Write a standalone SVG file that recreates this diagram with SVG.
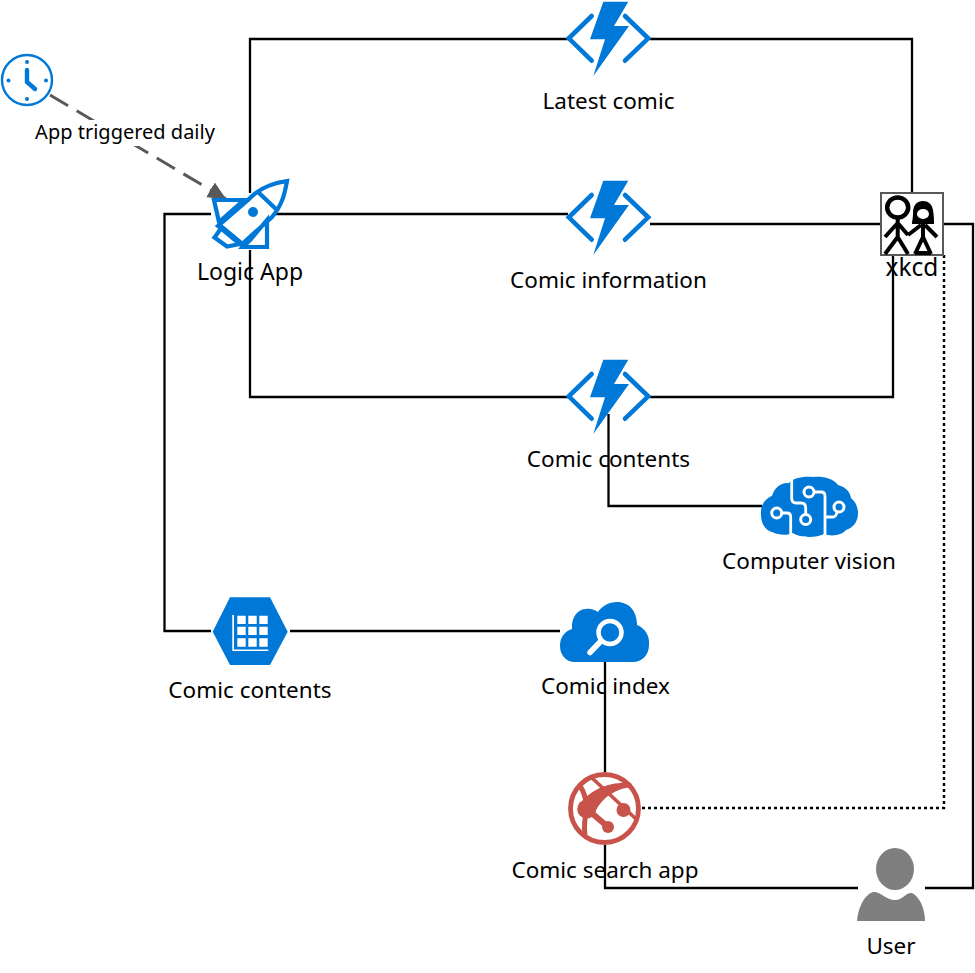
<svg xmlns="http://www.w3.org/2000/svg" xmlns:xlink="http://www.w3.org/1999/xlink" width="975" height="973" viewBox="0 0 975 973">
<style>
text{font-family:"Noto Sans","Open Sans","Liberation Sans",sans-serif;font-size:22.5px;fill:#000;text-anchor:middle}
.c{fill:none;stroke:#000;stroke-width:2.3}
.b{fill:#0078d7}
.w{fill:none;stroke:#fff;stroke-width:2.8}
.n{fill:#0078d7;stroke:#fff;stroke-width:3}
</style>
<defs>
<g id="fn">
<path class="b" d="M603.3 1.7H628.3L614 26H629L593.3 76L605 39.3H590Z"/>
<path d="M591.700 16L568.800 38.300L591.700 60.700M625 16L648.200 38.300L625 60.700" fill="none" stroke="#0078d7" stroke-width="4.600" stroke-linecap="round"/>
</g>
<marker id="ah" markerUnits="userSpaceOnUse" markerWidth="20" markerHeight="18" refX="18" refY="8.500" orient="auto"><path d="M0 0L18 8.500L0 17Z" fill="#595959"/></marker>
</defs>
<rect width="975" height="973" fill="#fff"/>
<g id="connectors">
<path class="c" d="M250 193V39H568M650 39H912V193"/>
<path class="c" d="M211 631H164.500V214H211M273 214H568M650 224H881M250 250V397H568M650 397H893V255"/>
<path class="c" d="M608.500 414V506H762M290 631H560M605 662V772M605 845V888H858M925 888H973V224H943"/>
<path d="M944 255V808H642" fill="none" stroke="#000" stroke-width="2.400" stroke-dasharray="3 3"/>
<path d="M50 95L226 199" fill="none" stroke="#595959" stroke-width="3" stroke-dasharray="21 10" marker-end="url(#ah)"/>
</g>
<g id="clock">
<circle cx="27" cy="80" r="25" fill="#fff" stroke="#0078d7" stroke-width="2.400"/>
<path d="M27 70V82L35 89" fill="none" stroke="#0078d7" stroke-width="4.400" stroke-linecap="round"/>
<g class="b"><circle cx="27" cy="62" r="2"/><circle cx="27" cy="99" r="2"/><circle cx="8.500" cy="80.500" r="2"/><circle cx="46" cy="80.500" r="2"/></g>
</g>
<rect x="34" y="120" width="182" height="26" fill="#fff"/>
<text x="125" y="139" style="font-size:20px">App triggered daily</text>
<g id="logic-app">
<path d="M287 181C285 192 283 204 272 217L241 245L218 226L248 200C258 189 272 183 287 181ZM258 192L277 210M214 200H244L219 222ZM267 220V247H243L251 239ZM222 227L214.500 237.500L227 246.500L242 243.500Z" fill="none" stroke="#0078d7" stroke-width="4.200"/>
<circle cx="253" cy="212" r="5" class="b"/>
<text x="250" y="280" style="font-size:23px">Logic App</text>
</g>
<g id="latest-comic"><use xlink:href="#fn" href="#fn"/><text x="608.500" y="109">Latest comic</text></g>
<g id="comic-information"><use xlink:href="#fn" href="#fn" y="179"/><text x="608.500" y="288">Comic information</text></g>
<g id="comic-contents-fn"><use xlink:href="#fn" href="#fn" y="358"/><text x="608.500" y="467">Comic contents</text></g>
<g id="xkcd">
<rect x="881" y="193" width="62" height="62" fill="#fff" stroke="#595959" stroke-width="2"/>
<ellipse cx="897.700" cy="207.500" rx="10.500" ry="10" fill="#fff" stroke="#000" stroke-width="4.500"/>
<path d="M897.700 218V237L885 254M897.700 237L908 254M897.700 223L885 237M897.700 223L908 235" fill="none" stroke="#000" stroke-width="4"/>
<path d="M923 201C916 201 913 206 913 213C913 219 912 221 912 224H934C934 220 934 216 933 210C932 204 928 201 923 201Z" fill="#000"/>
<ellipse cx="923" cy="214" rx="6" ry="5" fill="#fff"/>
<path d="M923 222V237L915 254M923 237L931 254M915 253H931M921 225L908 235M925 225L937 237" fill="none" stroke="#000" stroke-width="4"/>
<text x="912" y="276" style="font-size:24.500px">xkcd</text>
</g>
<g id="computer-vision">
<path class="b" d="M761 515C760 505 766 498 772 496C774 488 781 482 789 483C793 478 803 476 813 477C822 476 833 478 838 485C846 487 850 492 851 498C856 502 858 508 858 513C858 522 853 528 846 530C842 535 832 537 824 534C816 538 800 538 793 533C787 536 778 535 772 532C765 530 761 523 761 515Z"/>
<path class="w" d="M791.700 480V498Q791.700 503 796 503H801Q805.700 503 805.700 508V516M812 492H821Q825 492 825 496V535M825 517H833Q836 517 837 512M780 513H787Q790.700 513 790.700 517V535"/>
<circle cx="809" cy="492" r="5" class="n"/>
<circle cx="805.700" cy="519.500" r="5" class="n"/>
<circle cx="839" cy="507" r="5" class="n"/>
<circle cx="776.700" cy="513" r="5" class="n"/>
<text x="809" y="569">Computer vision</text>
</g>
<g id="comic-table">
<path class="b" d="M212.700 631.700L230 597.300H270L287.700 631.700L270 665H230Z"/>
<path fill="#fff" d="M232.300 615H234V649.500H268.300V651H232.300ZM237.300 615.700h8.400v8.300h-8.400ZM248.300 615.700h8.400v8.300h-8.400ZM259.300 615.700h8.400v8.300h-8.400ZM237.300 626.700h8.400v8.300h-8.400ZM248.300 626.700h8.400v8.300h-8.400ZM259.300 626.700h8.400v8.300h-8.400ZM237.300 638.300h8.400v8.400h-8.400ZM248.300 638.300h8.400v8.400h-8.400ZM259.300 638.300h8.400v8.400h-8.400Z"/>
<text x="250" y="698">Comic contents</text>
</g>
<g id="comic-index">
<path class="b" d="M575 662C565 662 560 654 560 646C560 637 565 631 572 629C571 617 578 609 586 609C590 608 595 610 598 612C602 606 609 602 617 602C629 602 637 611 637 625C645 628 650 636 649 645C649 655 642 662 633 662Z"/>
<circle cx="610" cy="632.500" r="11.500" fill="none" stroke="#fff" stroke-width="4.500"/>
<path d="M601 641L590 652.500" stroke="#fff" stroke-width="5.500" stroke-linecap="round"/>
<text x="605.500" y="694">Comic index</text>
</g>
<g id="search-app">
<circle cx="604.500" cy="808.500" r="34" fill="#fff" stroke="#c8534a" stroke-width="4.800"/>
<g fill="none" stroke="#c8534a">
<path d="M591 777L636 819" stroke-width="3.600"/>
<path d="M587 809L608 827" stroke-width="6"/>
<path d="M587 809C586 798 583 790 580 786M587 809C584 820 584 828 585 836" stroke-width="5"/>
</g>
<path fill="#c8534a" d="M582 802C590 790 610 781 631 783L633 787C617 788 603 796 595 812Z"/>
<g fill="#c8534a"><circle cx="586.700" cy="809" r="9.500"/><circle cx="623.500" cy="810" r="7"/><circle cx="608" cy="827" r="6"/></g>
<text x="605" y="878">Comic search app</text>
</g>
<g id="user">
<ellipse cx="895" cy="869" rx="19" ry="21" fill="#7f7f7f"/>
<path d="M857 921C858 908 864 895 873 892C880 891 886 900 895 900C903 900 906 892 912 893C920 897 925 909 925 921Z" fill="#7f7f7f"/>
<text x="891" y="954">User</text>
</g>
</svg>
